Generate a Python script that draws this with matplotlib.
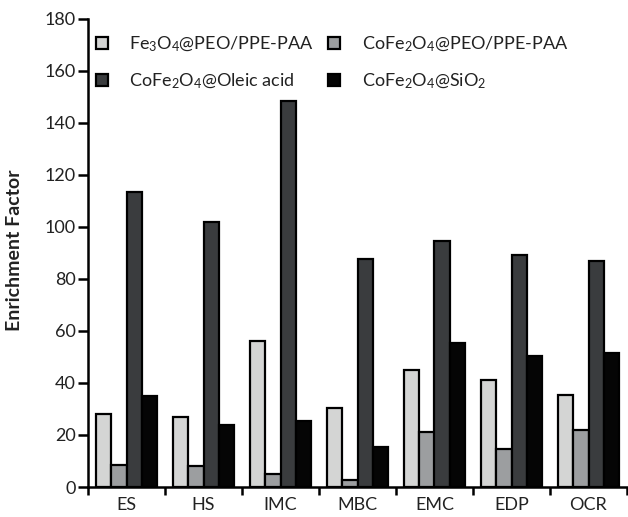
import matplotlib
matplotlib.use("Agg")
import matplotlib.pyplot as plt
import numpy as np

categories = ["ES", "HS", "IMC", "MBC", "EMC", "EDP", "OCR"]
series_names = [r"Fe$_3$O$_4$@PEO/PPE-PAA", r"CoFe$_2$O$_4$@PEO/PPE-PAA",
                r"CoFe$_2$O$_4$@Oleic acid", r"CoFe$_2$O$_4$@SiO$_2$"]
fe3o4_peo = [28, 27, 56, 30.5, 45, 41, 35.5]
cofe2o4_peo = [8.5, 8, 5, 2.5, 21, 14.5, 22]
cofe2o4_oleic = [113.5, 102, 148.5, 87.5, 94.5, 89, 87]
cofe2o4_sio2 = [35, 24, 25.5, 15.5, 55.5, 50.5, 51.5]
series = [fe3o4_peo, cofe2o4_peo, cofe2o4_oleic, cofe2o4_sio2]
colors = ["#d4d5d4", "#9c9ea0", "#3a3c3e", "#050505"]
yticks = [0, 20, 40, 60, 80, 100, 120, 140, 160, 180]

FONT = "Lato"
plt.rcParams["font.family"] = [FONT, "DejaVu Sans"]
plt.rcParams["mathtext.fontset"] = "custom"
plt.rcParams["mathtext.rm"] = FONT
plt.rcParams["mathtext.it"] = FONT + ":italic"
plt.rcParams["mathtext.bf"] = FONT + ":bold"

fig = plt.figure(figsize=(6.28, 5.17), dpi=100)
ax = fig.add_axes([88 / 628, 1 - 487 / 517, (627 - 88) / 628, (487 - 18.7) / 517])

x = np.arange(len(categories))
w = 0.2
handles = []
for i, (vals, c) in enumerate(zip(series, colors)):
    b = ax.bar(x + (i - 1.5) * w, vals, width=w, color=c, edgecolor="black",
               linewidth=1.6, label=series_names[i], zorder=2)
    handles.append(b)

ax.set_xlim(-0.5, len(categories) - 0.5)
ax.set_ylim(0, 180)
ax.set_yticks(yticks)
ax.set_xticks(x)
ax.set_xticklabels(categories)
ax.set_xticks(np.arange(-0.5, len(categories)), minor=True)
ax.tick_params(axis="x", which="major", length=0, pad=7, labelsize=13, colors="#222222")
ax.tick_params(axis="x", which="minor", length=6, width=1.8, direction="out")
ax.tick_params(axis="y", length=7, width=1.8, direction="out", labelsize=13,
               pad=2, labelcolor="#222222")
for s in ["top", "right"]:
    ax.spines[s].set_visible(False)
for s in ["left", "bottom"]:
    ax.spines[s].set_linewidth(1.8)

fig.text(15 / 628, 1 - 250 / 517, "Enrichment Factor", rotation=90, ha="center",
         va="center", fontsize=14, fontweight="bold", color="#222222")

order = [0, 2, 1, 3]
leg = ax.legend(handles=[handles[i] for i in order],
                labels=[series_names[i] for i in order], ncol=2, loc="upper left",
                bbox_to_anchor=(96 / 628, 1 - 35 / 517), bbox_transform=fig.transFigure,
                frameon=False, fontsize=13, handlelength=0.65, handleheight=0.65,
                handletextpad=1.2, columnspacing=0.8, labelspacing=0.95,
                borderaxespad=0, borderpad=0)
for t in leg.get_texts():
    t.set_color("#222222")

fig.savefig("out.png", dpi=100)
